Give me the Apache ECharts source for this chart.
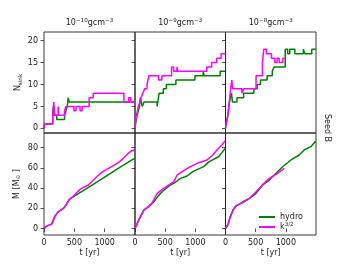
<!DOCTYPE html>
<html><head><meta charset="utf-8">
<script src="https://cdn.jsdelivr.net/npm/echarts@6/dist/echarts.min.js"></script>
<style>html,body{margin:0;padding:0;background:#fff}#c{width:352px;height:264px}</style>
</head><body><div id="c"></div>
<script>
// ---- labels / ticks ----
const columnTitles = ['10{sup|−10}gcm{sup|−3}', '10{sup|−9}gcm{sup|−3}', '10{sup|−8}gcm{sup|−3}'];
const rowLabel = 'Seed B';
const seriesNames = ['hydro', 'k3/2'];
const nTicks = [0, 5, 10, 15, 20];
const mTicks = [0, 20, 40, 60, 80];
const tTicks = [0, 500, 1000];

// ---- N_sink (step, value held until next time) ----
const hydroN_10 = [[0,0],[6,1],[144,3],[152,5],[162,3],[210,2],[339,3],[361,4],[383,5],[400,7],[415,6],[1500,6]];
const k32N_10 = [[0,0],[6,1],[144,3],[161,6],[178,3],[233,5],[244,3],[339,4],[361,5],[494,4],[528,5],[594,4],[628,5],[744,7],[811,8],[1317,6],[1394,7],[1428,6],[1500,6]];
const hydroN_9 = [[0,0],[10,1],[20,2],[35,3],[55,4],[75,5],[88,7],[120,5],[150,6],[367,5],[400,8],[470,9],[520,10],[678,11],[994,12],[1130,13],[1145,12],[1411,13],[1500,13]];
const k32N_9 = [[0,0],[5,1],[15,2],[25,3],[40,4],[55,5],[80,6],[100,7],[130,8],[160,9],[200,10],[230,12],[390,11],[445,12],[606,14],[640,13],[695,14],[705,13],[1190,14],[1270,15],[1355,16],[1427,17],[1500,17]];
const hydroN_8 = [[0,0],[10,1],[25,2],[40,3],[55,5],[80,7],[100,8],[115,6],[190,7],[300,8],[470,9],[525,10],[580,11],[690,12],[775,13],[805,14],[990,18],[1030,17],[1065,18],[1150,17],[1290,18],[1315,17],[1430,18],[1500,18]];
const k32N_8 = [[0,0],[10,1],[25,2],[40,3],[55,5],[70,7],[85,9],[95,10],[105,11],[120,9],[270,8],[300,9],[506,12],[612,15],[634,18],[678,17],[762,16],[817,15],[855,16],[890,15],[950,16],[980,16]];

// ---- M [Msun] ----
const hydroM_10 = [[0,0],[44,2.3],[126,4.3],[181,12.2],[236,16.5],[319,19.8],[363,23],[418,28.8],[500,31.9],[700,39.5],[1000,50.9],[1250,60.4],[1490,69.4]];
const k32M_10 = [[0,0],[44,2.3],[126,4.3],[181,12.2],[236,16.5],[319,19.8],[363,23],[418,28.8],[484,32],[538,35.4],[593,38.7],[648,40.7],[731,43],[786,46.3],[868,51.2],[951,55.5],[1033,58.5],[1115,61.2],[1225,65.1],[1308,69.4],[1390,74.4],[1445,77],[1490,77.7]];
const hydroM_9 = [[0,0],[66,8.9],[148,18.2],[231,21.5],[313,26.4],[396,33],[478,38],[588,43],[682,46.2],[753,49.6],[863,51.9],[957,56.2],[1137,61.2],[1231,66.1],[1385,71],[1495,79.3]];
const k32M_9 = [[0,0],[38,5],[93,12.2],[148,18.2],[203,20.8],[286,25.5],[368,34.7],[451,38.7],[533,42],[643,46.3],[698,52.9],[780,56.2],[918,61.2],[1055,65.1],[1192,67.8],[1275,71.7],[1357,77.7],[1440,82.6],[1495,86.8]];
const hydroM_8 = [[0,0],[40,4],[80,12],[130,19],[177,22],[287,26.4],[397,29.8],[507,34.7],[617,43],[727,47.9],[837,54.6],[947,61.1],[1084,67.8],[1222,72.7],[1304,77.7],[1414,81],[1497,86.6]];
const k32M_8 = [[0,0],[33,2.3],[72,9.9],[127,18.2],[165,22.2],[287,25.5],[397,29.8],[507,36.4],[617,43.6],[727,49.6],[837,53.6],[975,59.5]];

const hydroN = [hydroN_10, hydroN_9, hydroN_8];
const k32N = [k32N_10, k32N_9, k32N_8];
const hydroM = [hydroM_10, hydroM_9, hydroM_8];
const k32M = [k32M_10, k32M_9, k32M_8];

const FONT = 'DejaVu Sans';
const TXT = '#222';
const GREEN = '#008000', MAG = '#ff00ff';
const cols = [{left:44,width:91},{left:135,width:90.5},{left:225.5,width:90.5}];
const rows = [{top:32,height:101,min:-1.05,max:21.95,ticks:nTicks},{top:133,height:102,min:-6.5,max:94.5,ticks:mTicks}];
const richSup = {
  sup:{fontSize:5.6,fontFamily:FONT,color:TXT,verticalAlign:'top'},
  sub:{fontSize:5.6,fontFamily:FONT,color:TXT,verticalAlign:'bottom'}
};
const plain = v => String(v);

const grid=[], xAxis=[], yAxis=[], series=[];
rows.forEach((r,ri)=>{
  cols.forEach((c,ci)=>{
    const idx = grid.length;
    grid.push({left:c.left,top:r.top,width:c.width,height:r.height,show:true,borderColor:'#222',borderWidth:0.9,backgroundColor:'transparent'});
    xAxis.push({type:'value',gridIndex:idx,min:0,max:1500,
      axisLine:{show:false},splitLine:{show:false},
      axisTick:{show:ri===1,length:3.5,lineStyle:{color:TXT,width:0.8},customValues:tTicks},
      axisLabel:{show:ri===1,customValues:tTicks,formatter:plain,fontSize:8,fontFamily:FONT,color:TXT,margin:4},
      name: ri===1 ? 't [yr]' : '', nameLocation:'middle', nameGap:14,
      nameTextStyle:{fontSize:8,fontFamily:FONT,color:TXT}});
    yAxis.push({type:'value',gridIndex:idx,min:r.min,max:r.max,
      axisLine:{show:false},splitLine:{show:false},
      axisTick:{show:true,length:3.5,lineStyle:{color:TXT,width:0.8},customValues:r.ticks},
      axisLabel:{show:ci===0,customValues:r.ticks,formatter:plain,fontSize:8,fontFamily:FONT,color:TXT,margin:6},
      name: ci===0 ? (ri===0 ? 'N{sub|sink}' : 'M [M{sub|⊙} ]') : '',
      nameLocation:'middle', nameGap: ri===0 ? 20 : 22,
      nameTextStyle:{fontSize:8,fontFamily:FONT,color:TXT,lineHeight:11,rich:richSup}});
    const hd = ri===0 ? hydroN[ci] : hydroM[ci];
    const kd = ri===0 ? k32N[ci] : k32M[ci];
    series.push({type:'line',name:seriesNames[0],xAxisIndex:idx,yAxisIndex:idx,data:hd,
      step: ri===0 ? 'end' : false, showSymbol:false, symbol:'none',
      lineStyle:{color:GREEN,width:1.5},itemStyle:{color:GREEN},z:2});
    series.push({type:'line',name:seriesNames[1],xAxisIndex:idx,yAxisIndex:idx,data:kd,
      step: ri===0 ? 'end' : false, showSymbol:false, symbol:'none',
      lineStyle:{color:MAG,width:1.5},itemStyle:{color:MAG},z:3});
  });
});

const graphic = columnTitles.map((t,i)=>({
  type:'text', x: cols[i].left + cols[i].width/2, y: 23,
  style:{text:t, align:'center', verticalAlign:'middle', fontSize:8, fontFamily:FONT, fill:TXT, lineHeight:11, rich:richSup}
}));
graphic.push({type:'text', x:327, y:128, rotation:-Math.PI/2,
  style:{text:rowLabel, align:'center', verticalAlign:'middle', fontSize:8, fontFamily:FONT, fill:TXT}});

const chart = echarts.init(document.getElementById('c'), null, {renderer:'canvas'});
chart.setOption({
  animation:false,
  backgroundColor:'#fff',
  grid, xAxis, yAxis, series, graphic,
  legend:{data:seriesNames, orient:'vertical', left:259, top:212, padding:0, itemWidth:16, itemHeight:2, icon:'rect', itemGap:0,
    selectedMode:false,
    formatter: n => n==='k3/2' ? 'k{sup|3/2}' : n,
    textStyle:{fontSize:8,fontFamily:FONT,color:TXT,lineHeight:10,rich:richSup}}
});
</script></body></html>
